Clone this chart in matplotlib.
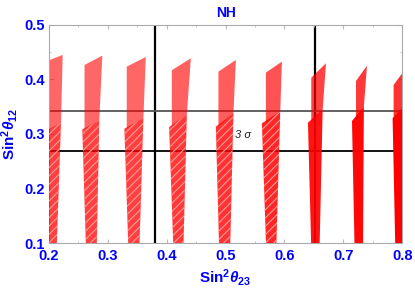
import numpy as np
import matplotlib
matplotlib.use('Agg')
from matplotlib import pyplot as plt
from matplotlib.patches import Polygon

plt.rcParams['font.family'] = 'Liberation Sans'
plt.rcParams['font.weight'] = 'bold'
plt.rcParams['mathtext.fontset'] = 'custom'
plt.rcParams['mathtext.rm'] = 'Liberation Sans:bold'
plt.rcParams['mathtext.it'] = 'Liberation Sans:bold:italic'
plt.rcParams['mathtext.bf'] = 'Liberation Sans:bold'
plt.rcParams['hatch.linewidth'] = 0.8

###############################################################################
# Data (one entry per red band)
###############################################################################
# upper (lighter) part of each band
up_left = [0.195, 0.2604, 0.3321, 0.4087, 0.4879, 0.5685, 0.6456, 0.7216, 0.7855]
up_right = [0.2233, 0.2906, 0.3645, 0.4410, 0.5175, 0.5957, 0.6706, 0.7403, 0.806]
up_top_left = [0.433, 0.4266, 0.4235, 0.4169, 0.4143, 0.4125, 0.4033, 0.3972, 0.3899]
up_top_right = [0.445, 0.4437, 0.4413, 0.4389, 0.4358, 0.4327, 0.4297, 0.4253, 0.420]
# lower (denser) part of each band
lo_left = [0.192, 0.2566, 0.3281, 0.4041, 0.4835, 0.5617, 0.6400, 0.7148, 0.7838]
lo_right = [0.2204, 0.2855, 0.3604, 0.4342, 0.5134, 0.5929, 0.6650, 0.7350, 0.803]
lo_top_left = [0.305, 0.3086, 0.3097, 0.3128, 0.3134, 0.3196, 0.3207, 0.3239, 0.3288]
lo_top_right = [0.3202, 0.3239, 0.3288, 0.3349, 0.3380, 0.3409, 0.3450, 0.3500, 0.3520]
bot_left = [0.196, 0.2629, 0.3349, 0.4114, 0.4891, 0.5690, 0.6456, 0.7192, 0.7884]
bot_right = [0.2131, 0.2811, 0.3536, 0.4284, 0.5078, 0.5861, 0.6597, 0.7335, 0.7998]
# how solid each band looks
band_alpha = [0.75, 0.75, 0.75, 0.78, 0.8, 0.85, 0.92, 0.97, 1.0]

# 3 sigma ranges
s23_lo, s23_hi = 0.380, 0.652
s12_lo, s12_hi = 0.269, 0.342

xticks = [0.2, 0.3, 0.4, 0.5, 0.6, 0.7, 0.8]
yticks = [0.1, 0.2, 0.3, 0.4, 0.5]

###############################################################################
# Plot
###############################################################################
fig = plt.figure(figsize=(4.15, 2.9), dpi=100)
ax = fig.add_axes([0.118, 0.162, 0.851, 0.752])

ax.axvline(s23_lo, color='black', lw=1.6, zorder=1)
ax.axvline(s23_hi, color='black', lw=1.6, zorder=1)
ax.axhline(s12_hi, color='#555555', lw=1.3, zorder=1)
ax.axhline(s12_lo, color='black', lw=1.3, zorder=1)

for i in range(len(up_left)):
    a = band_alpha[i]
    upper = Polygon([(up_left[i], up_top_left[i]), (up_right[i], up_top_right[i]),
                     (lo_right[i], lo_top_right[i]), (up_left[i], lo_top_left[i])],
                    closed=True, facecolor='red', alpha=a * 0.8, lw=0, zorder=2)
    lower = Polygon([(lo_left[i], lo_top_left[i]), (lo_right[i], lo_top_right[i]),
                     (bot_right[i], 0.09), (bot_left[i], 0.09)],
                    closed=True, facecolor='red', alpha=a, lw=0, zorder=3)
    ax.add_patch(upper)
    ax.add_patch(lower)
    if a < 0.9:
        hatch = Polygon(lower.get_xy(), closed=True, facecolor='none',
                        edgecolor=(1, 0.6, 0.6), hatch='////', lw=0, zorder=4)
        ax.add_patch(hatch)

ax.text(0.516, 0.298, '3 σ', fontsize=8, style='italic', fontweight='normal',
        color='#222222', ha='left', va='center')

ax.set_xlim(0.2, 0.8)
ax.set_ylim(0.1, 0.5)
ax.set_xticks(xticks)
ax.set_yticks(yticks)
ax.set_xticks(np.arange(0.2, 0.81, 0.05), minor=True)
ax.set_yticks(np.arange(0.1, 0.51, 0.05), minor=True)
ax.tick_params(which='both', direction='in', color='#bbbbbb', top=True, right=True)
ax.tick_params(which='major', length=3, labelsize=10.5, labelcolor='blue')
ax.tick_params(axis='x', which='major', pad=4)
ax.tick_params(axis='y', which='major', pad=3)
ax.tick_params(which='minor', length=1.5)
for sp in ax.spines.values():
    sp.set_color('#aaaaaa')

ax.set_xlabel(r'Sin$^2\theta_{23}$', color='blue', fontsize=11, fontweight='bold', labelpad=3)
ax.set_ylabel(r'Sin$^2\theta_{12}$', color='blue', fontsize=11, fontweight='bold', labelpad=3)
ax.set_title('NH', color='blue', fontsize=10, fontweight='bold', pad=6)

plt.savefig('out.png', dpi=100)
